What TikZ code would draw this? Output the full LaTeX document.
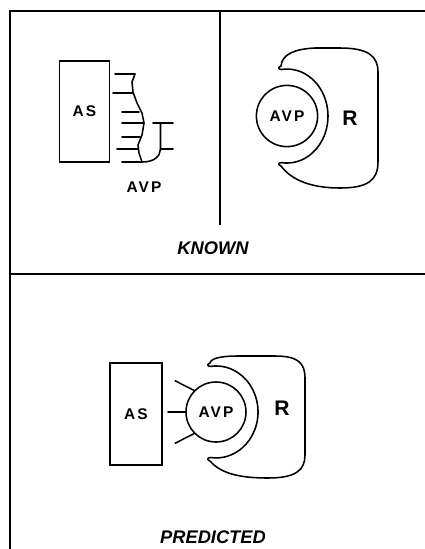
\documentclass[tikz,border=0pt]{standalone}
\usepackage{fontspec}
\setsansfont{Liberation Sans}
\newfontfamily\spacedsans[LetterSpace=14]{Liberation Sans}
\usetikzlibrary{positioning}

\begin{document}
\begin{tikzpicture}[
    x=0.025cm, y=0.025cm,
    % lines
    panel/.style={line width=1.2pt},
    outline/.style={line width=1.1pt, line join=round, line cap=round},
    % nodes
    site/.style={draw, rectangle, line width=1.1pt, minimum width=1.25cm,
        minimum height=2.53cm, font=\spacedsans\bfseries\fontsize{11}{13}\selectfont},
    ligand/.style={draw, circle, line width=1.1pt, minimum size=1.53cm, inner sep=0pt,
        outer sep=0pt, font=\spacedsans\bfseries\fontsize{11}{13}\selectfont},
    tag/.style={font=\spacedsans\bfseries\fontsize{11}{13}\selectfont},
    recname/.style={font=\sffamily\bfseries\fontsize{15}{17}\selectfont},
    caption/.style={font=\sffamily\bfseries\itshape\fontsize{13}{15}\selectfont}
]
\useasboundingbox (0,0) rectangle (425,-549);

% frame of the two panels
\draw[panel] (10,-549) -- (10,-11) -- (425,-11);
\draw[panel] (10,-274) -- (425,-274);
\draw[panel] (220,-11) -- (220,-225);

% === KNOWN, left: AS with bound AVP ===
\node[site] (as1) at (84.5,-111.5) {AS};
\draw[outline] (135,-74) -- (132,-82) -- (133,-92) -- (137,-103) -- (142,-113)
    -- (144,-123) -- (142,-135) -- (138,-145) -- (139,-153) -- (142,-162)
    .. controls (155,-162) and (160,-156) .. (160.5,-149) -- (160.5,-123);
\draw[outline] (115,-74) -- (135,-74);
\draw[outline] (113,-93) -- (133,-93);
\draw[outline] (122,-112) -- (139,-112);
\draw[outline] (122,-123) -- (144,-123);
\draw[outline] (122,-137) -- (141,-137);
\draw[outline] (117,-149) -- (138,-149);
\draw[outline] (122,-162) -- (142,-162);
\draw[outline] (153,-123) -- (173,-123);
\draw[outline] (160.5,-149) -- (173,-149);
\node[tag] (avpfree) at (144,-187) {AVP};

% === KNOWN, right: AVP in R ===
\node[ligand] (avp1) at (287,-116) {AVP};
\draw[outline] (281.3,-69.5) arc[start angle=98, end angle=-98, x radius=41, y radius=47]
    .. controls (278,-163) and (278,-165) .. (281,-166)
    .. controls (293,-182) and (315,-188) .. (340,-188)
    .. controls (368,-188) and (378,-180) .. (378,-162)
    -- (378,-72)
    .. controls (378,-56) and (368,-48) .. (340,-48)
    -- (315,-48)
    .. controls (295,-49) and (282,-54) .. (281,-66)
    .. controls (278,-67) and (278,-69) .. cycle;
\node[recname] (r1) at (350,-118) {R};

\node[caption] (known) at (213,-248) {KNOWN};

% === PREDICTED: AS - AVP - R ===
\node[site, minimum width=1.3cm, minimum height=2.55cm] (as2) at (136,-414) {AS};
\node[ligand, minimum size=1.5cm] (avp2) at (216,-412) {AVP};
\draw[outline] (avp2.135) -- ++(153:22);
\draw[outline] (avp2.180) -- ++(180:18);
\draw[outline] (avp2.225) -- ++(207:22);
\draw[outline] (210.2,-366.4) arc[start angle=98, end angle=-98, x radius=42, y radius=46]
    .. controls (207,-458) and (207,-460) .. (210,-461)
    .. controls (222,-475) and (244,-478) .. (268,-478)
    .. controls (296,-478) and (305,-470) .. (305,-455)
    -- (305,-378)
    .. controls (305,-363) and (298,-356) .. (275,-356)
    -- (238,-356)
    .. controls (222,-356) and (211,-358) .. (210,-363)
    .. controls (207,-364) and (207,-366) .. cycle;
\node[recname] (r2) at (282,-408) {R};

\node[caption] (predicted) at (213,-537) {PREDICTED};
\end{tikzpicture}
\end{document}
